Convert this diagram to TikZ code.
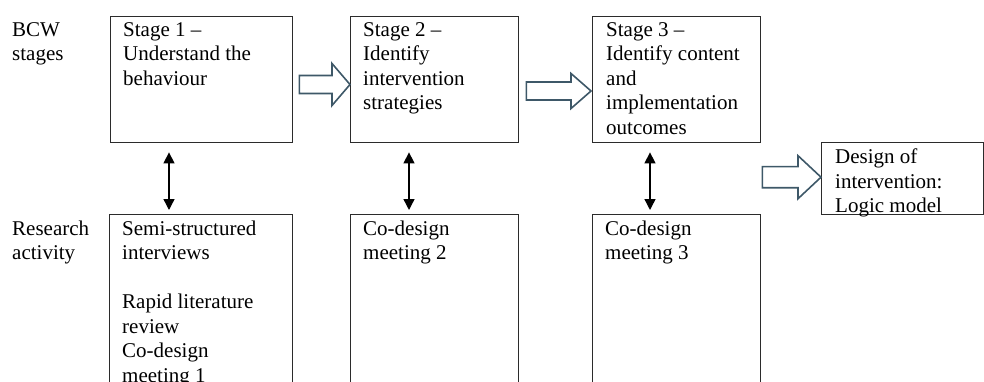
\documentclass[tikz,border=0pt]{standalone}
\usepackage{fontspec}
\setmainfont{Liberation Serif}
\usetikzlibrary{calc,arrows.meta}
\definecolor{arrowcol}{HTML}{3E5868}
\definecolor{boxcol}{HTML}{2B2B2B}
\tikzset{
  stagebox/.style={draw=boxcol, line width=1.4pt, anchor=north west, inner sep=0pt},
  txt/.style={anchor=north west, inner sep=0pt, align=left, font=\fontsize{21}{24.5}\selectfont},
  dbl/.style={{Triangle[length=11pt,width=11pt]}-{Triangle[length=11pt,width=11pt]}, line width=1.4pt, draw=black},
  blockarrow/.style={draw=arrowcol, line width=1.6pt, fill=white, line join=miter},
}
\newcommand\blockarr[5]{% #1 tail, #2 tip, #3 shaft half, #4 head half, #5 head length
  \draw[blockarrow] ($(#1)+(0,-#3)$) -- ($(#2)+(-#5,-#3)$) -- ($(#2)+(-#5,-#4)$) -- (#2)
    -- ($(#2)+(-#5,#4)$) -- ($(#2)+(-#5,#3)$) -- ($(#1)+(0,#3)$) -- cycle;}
\begin{document}
\begin{tikzpicture}[x=1pt,y=-1pt]
  \useasboundingbox (0,0) rectangle (984,382);
  \fill[white] (0,0) rectangle (984,382);
  \clip (0,0) rectangle (984,382);

  % stage boxes
  \node[stagebox, minimum width=182pt, minimum height=126pt] (s1) at (110,16) {};
  \node[stagebox, minimum width=168pt, minimum height=126pt] (s2) at (350,16) {};
  \node[stagebox, minimum width=168pt, minimum height=126pt] (s3) at (592,16) {};
  \node[stagebox, minimum width=162pt, minimum height=72pt] (d) at (821,142) {};

  % research boxes (run past the bottom edge)
  \node[stagebox, minimum width=183pt, minimum height=200pt] (r1) at (109,214) {};
  \node[stagebox, minimum width=168pt, minimum height=200pt] (r2) at (350,214) {};
  \node[stagebox, minimum width=168pt, minimum height=200pt] (r3) at (592,214) {};

  % row labels
  \node[txt] (lbcw) at (12,22.2) {BCW\\stages};
  \node[txt] (lres) at (12,220.7) {Research\\activity};

  % texts
  \node[txt] (t1) at (123,22.2) {Stage 1 –\\Understand the\\behaviour};
  \node[txt] (t2) at (363,22.2) {Stage 2 –\\Identify\\intervention\\strategies};
  \node[txt] (t3) at (606,22.2) {Stage 3 –\\Identify content\\and\\implementation\\outcomes};
  \node[txt] (td) at (835,148.7) {Design of\\intervention:\\Logic model};
  \node[txt] (u1) at (122,220.7) {Semi-structured\\interviews\\[24.5pt]Rapid literature\\review\\Co-design\\meeting 1};
  \node[txt] (u2) at (363,220.7) {Co-design\\meeting 2};
  \node[txt] (u3) at (605,220.7) {Co-design\\meeting 3};

  % double-headed connectors
  \draw[dbl, shorten <=9pt, shorten >=4pt] ([xshift=59pt]s1.south west) -- ([xshift=60pt]r1.north west);
  \draw[dbl, shorten <=9pt, shorten >=4pt] ([xshift=59pt]s2.south west) -- ([xshift=59pt]r2.north west);
  \draw[dbl, shorten <=9pt, shorten >=4pt] ([xshift=58pt]s3.south west) -- ([xshift=58pt]r3.north west);

  % block arrows
  \coordinate (a1t) at ($(s1.north east)+(6,68.5)$);
  \coordinate (a1h) at ($(s2.north west)+(0,68.5)$);
  \coordinate (a2t) at ($(s2.north east)+(7,75)$);
  \coordinate (a2h) at ($(s3.north west)+(-1,75)$);
  \coordinate (a3t) at ($(s3.north east |- d.west)+(1,-1.5)$);
  \coordinate (a3h) at ($(d.west)+(0,-1.5)$);
  \blockarr{a1t}{a1h}{9}{21}{18}
  \blockarr{a2t}{a2h}{9}{17.5}{20}
  \blockarr{a3t}{a3h}{10.5}{21.5}{23}
\end{tikzpicture}
\end{document}
